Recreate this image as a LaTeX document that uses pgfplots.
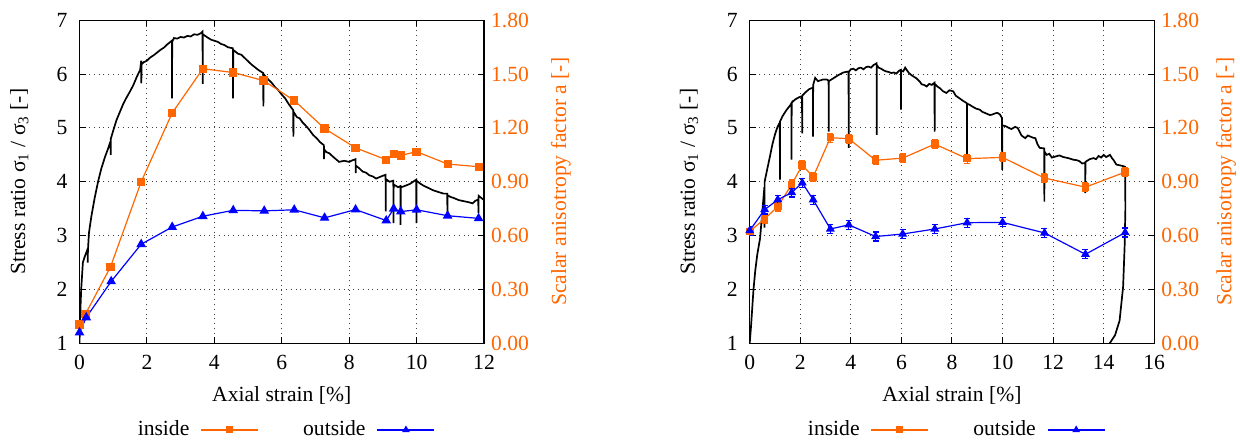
\documentclass[border=0pt]{standalone}
\usepackage{fontspec}
\setmainfont{Liberation Serif}
\usepackage{pgfplots}
\pgfplotsset{compat=1.18}
\definecolor{orng}{RGB}{255,102,0}
\definecolor{blu}{RGB}{0,0,255}
\pgfplotsset{
  base/.style={scale only axis, width=202.25pt, height=161.5pt,
    font=\fontsize{10.8}{13}\selectfont,
    /pgf/number format/assume math mode=true,
    tick align=inside, major tick length=3pt,
    axis line style={line width=0.7pt},
    every tick/.style={black, line width=0.5pt}},
  leftax/.style={base, ymin=1, ymax=7, ytick={1,2,3,4,5,6,7},
    ytick pos=left, grid=major, grid style={dotted, black!75, line width=0.5pt},
    xticklabel style={yshift=-2.5pt}, yticklabel style={xshift=-2.5pt},
    xlabel={Axial strain [\%]},
    xlabel style={at={(axis description cs:0.5,-0.16)}, anchor=center},
    ylabel={Stress ratio σ\textsubscript{1} / σ\textsubscript{3} [-]}},
  rightax/.style={base, ymin=0, ymax=1.8, axis y line*=right, axis x line=none,
    ytick={0,0.3,0.6,0.9,1.2,1.5,1.8},
    yticklabel style={text=orng, /pgf/number format/.cd, fixed, fixed zerofill, precision=2},
    ylabel={Scalar anisotropy factor a [-]}, ylabel style={text=orng},
    legend style={at={(0.507,-0.268)}, anchor=center, draw=none, fill=none,
      legend columns=2, font=\fontsize{10.8}{13}\selectfont,
      /tikz/every odd column/.append style={column sep=3.5pt},
      /tikz/every even column/.append style={column sep=20pt}},
    legend plot pos=right}
}
\begin{document}
\begin{tikzpicture}
% ---------------- left plot ----------------
\begin{axis}[leftax, at={(0,0)}, xmin=0, xmax=12, xtick={0,2,4,6,8,10,12},
  ylabel style={at={(axis description cs:-0.149,0.5)}, anchor=center}]
\addplot[black, line width=0.85pt] coordinates {
(0,1.0) (0.02,1.5) (0.05,2.0) (0.1,2.5) (0.15,2.6) (0.24,2.75) (0.245,2.5) (0.25,2.72)
(0.28,3.05) (0.35,3.35) (0.45,3.7) (0.55,4.0) (0.65,4.25) (0.75,4.45) (0.85,4.62)
(0.92,4.75) (0.925,4.5) (0.93,4.8) (1.0,4.95) (1.1,5.15) (1.2,5.3) (1.3,5.45) (1.4,5.57)
(1.5,5.68) (1.6,5.8) (1.7,5.95) (1.8,6.08) (1.83,6.25) (1.835,5.83) (1.84,6.18) (1.9,6.22)
(2.0,6.25) (2.1,6.31) (2.2,6.35) (2.3,6.4) (2.4,6.45) (2.5,6.49) (2.6,6.55) (2.74,6.62) (2.745,5.55) (2.75,6.6) (2.8,6.67)
(2.9,6.66) (3.0,6.69) (3.1,6.68) (3.2,6.71) (3.3,6.7) (3.4,6.74) (3.5,6.73) (3.6,6.76) (3.65,6.79) (3.655,5.82) (3.66,6.74) (3.8,6.68)
(3.9,6.64) (4.0,6.62) (4.1,6.6) (4.2,6.56) (4.3,6.54) (4.4,6.5) (4.55,6.48) (4.555,5.55) (4.56,6.45) (4.7,6.38) (4.8,6.36) (4.9,6.3)
(5.0,6.24) (5.1,6.18) (5.2,6.13) (5.3,6.08) (5.45,6.02) (5.455,5.4) (5.46,6.0) (5.6,5.9) (5.7,5.84) (5.8,5.76) (5.9,5.7) (6.0,5.62)
(6.1,5.55) (6.2,5.45) (6.34,5.33) (6.345,4.84) (6.35,5.3) (6.45,5.2) (6.53,5.18) (6.62,5.1) (6.7,5.05) (6.8,4.98) (6.93,4.87)
(7.05,4.8) (7.13,4.74) (7.25,4.68) (7.255,4.42) (7.26,4.6) (7.33,4.55) (7.41,4.53) (7.55,4.45) (7.7,4.37)
(7.85,4.39) (8.0,4.37) (8.1,4.4) (8.19,4.42) (8.195,4.16) (8.2,4.3) (8.3,4.25) (8.4,4.19) (8.5,4.17) (8.6,4.12)
(8.7,4.1) (8.8,4.06) (8.95,4.1) (9.08,4.13) (9.085,3.45) (9.09,4.05) (9.2,4.0) (9.31,4.02)
(9.315,3.23) (9.32,3.95) (9.45,3.9) (9.52,3.92) (9.525,3.2) (9.53,3.9) (9.6,3.91)
(9.8,3.96) (9.99,4.04) (9.995,3.23) (10.0,4.02) (10.1,3.97) (10.2,3.93) (10.3,3.9) (10.4,3.87) (10.5,3.84) (10.6,3.82)
(10.7,3.8) (10.8,3.78) (10.91,3.78) (10.915,3.38) (10.92,3.75) (11.0,3.72) (11.1,3.7) (11.25,3.66) (11.4,3.64)
(11.55,3.62) (11.66,3.6) (11.75,3.65) (11.83,3.67) (11.835,3.42) (11.84,3.74) (11.92,3.7) (12.0,3.66)
};
\end{axis}
\begin{axis}[rightax, at={(0,0)}, xmin=0, xmax=12,
  ylabel style={at={(axis description cs:1.19,0.5)}, anchor=center},
  legend image code/.code={\draw[mark repeat=2, mark phase=2, #1, line width=0.9pt, mark size=1.3pt] plot coordinates {(0pt,0pt) (14.25pt,0pt) (28.5pt,0pt)};}]
\addplot[color=orng, line width=0.6pt, mark=square*, mark size=1.75pt, mark options={solid, fill=orng}] coordinates {
(0,0.105) (0.18,0.164) (0.92,0.426) (1.83,0.90) (2.75,1.284) (3.66,1.53) (4.56,1.509)
(5.46,1.464) (6.37,1.353) (7.27,1.197) (8.19,1.089) (9.10,1.023) (9.32,1.056) (9.53,1.047)
(10.0,1.068) (10.92,0.999) (11.84,0.984)
};
\addlegendentry{inside}
\addplot[color=blu, line width=0.6pt, mark=triangle*, mark size=2.2pt, mark options={solid, fill=blu}] coordinates {
(0,0.06) (0.20,0.144) (0.94,0.345) (1.83,0.552) (2.75,0.648) (3.66,0.708) (4.56,0.741)
(5.48,0.738) (6.37,0.744) (7.27,0.699) (8.19,0.745) (9.10,0.684) (9.32,0.75) (9.53,0.734)
(10.0,0.744) (10.92,0.711) (11.84,0.696)
};
\addlegendentry{outside}
\end{axis}
% ---------------- right plot ----------------
\begin{axis}[leftax, at={(335.1pt,0)}, xmin=0, xmax=16, xtick={0,2,4,6,8,10,12,14,16},
  ylabel style={at={(axis description cs:-0.150,0.5)}, anchor=center}]
\addplot[black, line width=0.85pt] coordinates {
(0,1.0) (0.05,1.3) (0.1,1.65) (0.15,2.0) (0.22,2.35) (0.3,2.65) (0.41,2.95) (0.5,3.45)
(0.58,3.9) (0.585,3.15) (0.59,4.0) (0.7,4.25) (0.8,4.47) (0.9,4.7) (1.0,4.88) (1.1,5.02)
(1.19,5.1) (1.195,4.04) (1.2,5.12) (1.3,5.22) (1.45,5.33) (1.6,5.42) (1.65,5.46) (1.655,4.41)
(1.66,5.47) (1.8,5.53) (1.95,5.57) (2.07,5.59) (2.075,4.9) (2.08,5.6) (2.2,5.66) (2.35,5.72)
(2.5,5.75) (2.505,4.84) (2.51,5.8) (2.59,5.93) (2.7,5.87) (2.9,5.9) (3.05,5.9) (3.12,5.88)
(3.125,4.93) (3.13,5.87) (3.3,5.92) (3.5,5.98) (3.7,6.03) (3.91,6.05) (3.915,4.63) (3.92,6.04)
(4.0,6.09) (4.1,6.1) (4.2,6.07) (4.3,6.11) (4.4,6.12) (4.5,6.09) (4.6,6.13) (4.7,6.14) (4.8,6.12) (4.9,6.17) (5.02,6.2) (5.025,4.87) (5.03,6.17)
(5.1,6.12) (5.2,6.1) (5.3,6.07) (5.4,6.05) (5.5,6.04) (5.6,6.02) (5.7,6.03) (5.8,6.01) (5.9,6.06) (5.98,6.08) (5.985,5.34) (5.99,6.06)
(6.07,6.05) (6.15,6.12) (6.22,6.07) (6.3,6.02) (6.4,5.98) (6.5,5.95) (6.6,5.92) (6.73,5.86) (6.8,5.81) (6.9,5.8) (7.0,5.77) (7.1,5.82) (7.2,5.8) (7.31,5.84) (7.315,4.93)
(7.32,5.82) (7.42,5.77) (7.52,5.74) (7.65,5.68) (7.78,5.65) (7.9,5.7) (8.05,5.68) (8.15,5.6) (8.3,5.55) (8.45,5.5) (8.59,5.46) (8.595,4.47) (8.6,5.45)
(8.7,5.43) (8.8,5.4) (8.95,5.36) (9.1,5.34) (9.2,5.3) (9.3,5.28) (9.4,5.26) (9.5,5.24) (9.6,5.25) (9.7,5.27) (9.8,5.28) (9.9,5.25) (9.98,5.18) (9.985,4.22) (9.99,5.05)
(10.14,5.03) (10.25,5.0) (10.35,4.98) (10.5,5.02) (10.6,5.0) (10.75,4.86) (10.9,4.81) (11.0,4.86) (11.1,4.84) (11.2,4.82) (11.3,4.81) (11.38,4.7) (11.47,4.63)
(11.65,4.62) (11.655,3.63) (11.66,4.56) (11.75,4.5) (11.85,4.52) (11.95,4.45) (12.1,4.47) (12.25,4.49) (12.4,4.46) (12.6,4.44) (12.8,4.41)
(12.95,4.4) (13.05,4.38) (13.15,4.34) (13.27,4.35) (13.275,3.79) (13.28,4.37) (13.45,4.42) (13.6,4.44) (13.7,4.42) (13.8,4.48)
(13.9,4.45) (14.0,4.5) (14.1,4.46) (14.25,4.5) (14.33,4.44) (14.4,4.4) (14.5,4.32) (14.6,4.31) (14.7,4.3) (14.85,4.28) (14.86,3.5) (14.83,2.8)
(14.77,2.05) (14.63,1.42) (14.45,1.15) (14.24,1.0)
};
\end{axis}
\begin{axis}[rightax, at={(335.1pt,0)}, xmin=0, xmax=16,
  ylabel style={at={(axis description cs:1.178,0.5)}, anchor=center},
  legend image code/.code={\draw[mark repeat=2, mark phase=2, #1, line width=0.9pt, mark size=1.3pt] plot coordinates {(0pt,0pt) (14.25pt,0pt) (28.5pt,0pt)};}]
\addplot[color=orng, line width=0.6pt, mark=square*, mark size=1.6pt, mark options={solid, fill=orng},
  error bars/.cd, y dir=both, y fixed=0.025, error mark options={rotate=90, mark size=1.5pt, line width=0.6pt}] coordinates {
(0,0.624) (0.59,0.693) (1.11,0.762) (1.66,0.885) (2.08,0.993) (2.51,0.927) (3.19,1.146)
(3.92,1.14) (4.98,1.02) (6.05,1.032) (7.32,1.11) (8.6,1.029) (10.0,1.036) (11.66,0.921)
(13.28,0.87) (14.85,0.954)
};
\addlegendentry{inside}
\addplot[color=blu, line width=0.6pt, mark=triangle*, mark size=2pt, mark options={solid, fill=blu},
  error bars/.cd, y dir=both, y fixed=0.025, error mark options={rotate=90, mark size=1.5pt, line width=0.6pt}] coordinates {
(0,0.628) (0.59,0.745) (1.11,0.80) (1.66,0.84) (2.08,0.894) (2.51,0.80) (3.19,0.637)
(3.92,0.66) (4.98,0.595) (6.05,0.609) (7.32,0.637) (8.6,0.672) (10.0,0.674) (11.66,0.615)
(13.28,0.496) (14.85,0.617)
};
\addlegendentry{outside}
\end{axis}
\pgfresetboundingbox
\path (-39.75pt,-49.35pt) rectangle (580.25pt,171.65pt);
\end{tikzpicture}
\end{document}
